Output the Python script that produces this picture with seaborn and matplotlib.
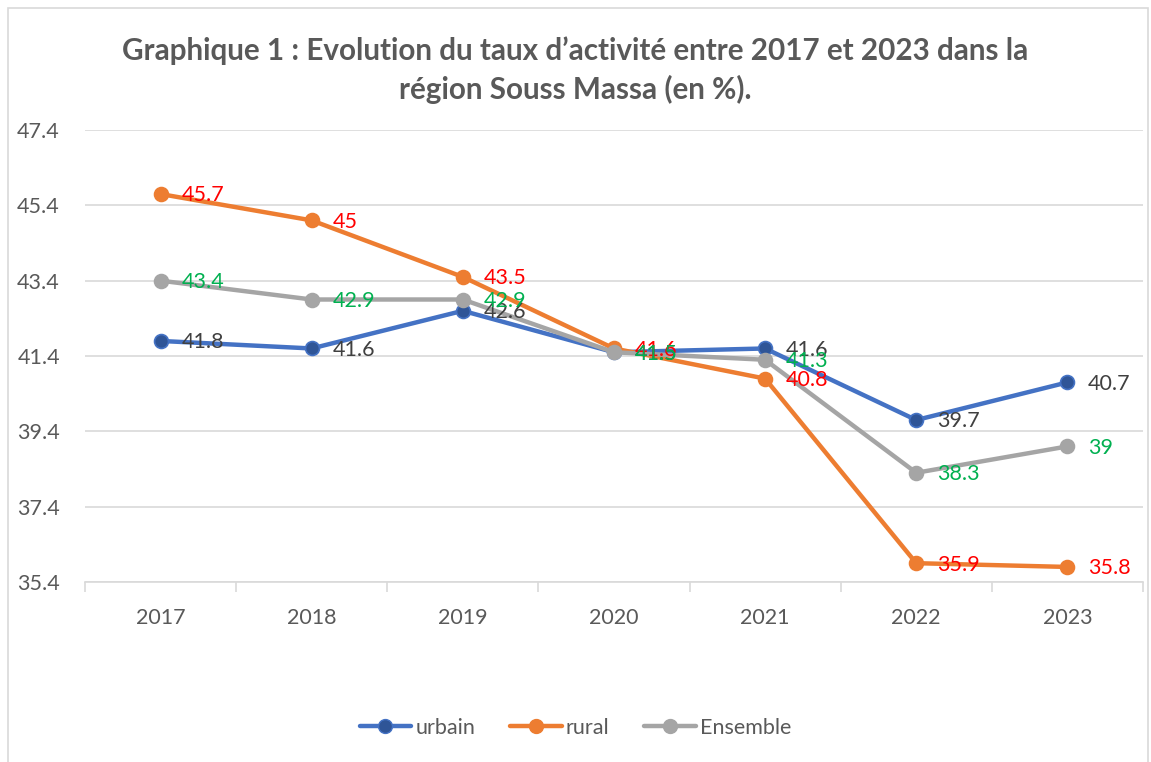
import numpy as np
import pandas as pd
import matplotlib
matplotlib.use("Agg")
import matplotlib.pyplot as plt
import seaborn as sns
from matplotlib.patches import Rectangle

# Données
annees = ["2017", "2018", "2019", "2020", "2021", "2022", "2023"]
urbain = [41.8, 41.6, 42.6, 41.5, 41.6, 39.7, 40.7]
rural = [45.7, 45.0, 43.5, 41.6, 40.8, 35.9, 35.8]
ensemble = [43.4, 42.9, 42.9, 41.5, 41.3, 38.3, 39.0]
series = ["urbain", "rural", "Ensemble"]
etiquettes = [["41.8", "41.6", "42.6", "41.5", "41.6", "39.7", "40.7"],
              ["45.7", "45", "43.5", "41.6", "40.8", "35.9", "35.8"],
              ["43.4", "42.9", "42.9", "41.5", "41.3", "38.3", "39"]]

df = pd.DataFrame({
    "annee": annees * 3,
    "taux": urbain + rural + ensemble,
    "zone": [s for s in series for _ in annees],
})

couleurs = {"urbain": "#4472C4", "rural": "#ED7D31", "Ensemble": "#A5A5A5"}
faces = {"urbain": "#2F5597", "rural": "#ED7D31", "Ensemble": "#A5A5A5"}
couleurs_txt = {"urbain": "#404040", "rural": "#FF0000", "Ensemble": "#00B050"}

sns.set_theme(style="white")
plt.rcParams["font.family"] = ["Lato", "DejaVu Sans"]

fig = plt.figure(figsize=(11.51, 7.62), dpi=100)
ax = fig.add_axes([0.0738, 0.2362, 0.9192, 0.5932])

sns.lineplot(data=df, x="annee", y="taux", hue="zone", palette=couleurs,
             linewidth=3.2, marker="o", markersize=10, markeredgewidth=1.2,
             sort=False, ax=ax, legend=False, zorder=3)

# couleur intérieure des marqueurs (urbain plus foncé)
for line, s in zip(ax.get_lines(), series):
    line.set_markerfacecolor(faces[s])
    line.set_markeredgecolor(couleurs[s])

# étiquettes de données à droite des points
for s, vals, labs in zip(series, [urbain, rural, ensemble], etiquettes):
    for i, (v, t) in enumerate(zip(vals, labs)):
        ax.annotate(t, (i, v), xytext=(15, -1), textcoords="offset points",
                    ha="left", va="center", fontsize=15.5,
                    color=couleurs_txt[s], zorder=4)

ax.set_xlim(-0.5, 6.5)
ax.set_ylim(35.4, 47.4)
ax.set_yticks(np.arange(35.4, 47.5, 2.0))
ax.set_yticklabels([f"{v:.1f}" for v in np.arange(35.4, 47.5, 2.0)])
ax.grid(axis="y", color="#D9D9D9", linewidth=1.2)
ax.set_axisbelow(True)
ax.set_xlabel("")
ax.set_ylabel("")

for side in ["top", "right", "left"]:
    ax.spines[side].set_visible(False)
ax.spines["bottom"].set_color("#D9D9D9")
ax.spines["bottom"].set_linewidth(1.2)

ax.set_xticks(np.arange(-0.5, 7, 1.0), minor=True)
ax.tick_params(axis="x", which="minor", length=7, width=1.2, color="#D9D9D9",
               direction="out", bottom=True)
ax.tick_params(axis="x", which="major", length=0, pad=19, labelsize=15.5,
               labelcolor="#595959")
ax.tick_params(axis="y", length=0, pad=18, labelsize=15.5, labelcolor="#595959")

fig.text(0.5, 0.934, "Graphique 1 : Evolution du taux d’activité entre 2017 et 2023 dans la",
         ha="center", va="center", fontsize=21.3, fontweight="bold", color="#595959")
fig.text(0.5, 0.882, "région Souss Massa (en %).",
         ha="center", va="center", fontsize=21.3, fontweight="bold", color="#595959")

handles = [plt.Line2D([], [], color=couleurs[s], linewidth=3.2, marker="o",
                      markersize=10, markerfacecolor=faces[s],
                      markeredgecolor=couleurs[s]) for s in series]
leg = fig.legend(handles, series, loc="center", bbox_to_anchor=(0.5, 0.045),
                 ncol=3, frameon=False, fontsize=15.5, handlelength=2.4,
                 columnspacing=1.6, handletextpad=0.2)
for t in leg.get_texts():
    t.set_color("#595959")

# bordure de la zone de graphique
fig.patches.append(Rectangle((8 / 1151, -0.05), 1140 / 1151, 1.05 - 8 / 762,
                             transform=fig.transFigure, fill=False,
                             edgecolor="#D9D9D9", linewidth=1.2))

fig.savefig("out.png", dpi=100)
